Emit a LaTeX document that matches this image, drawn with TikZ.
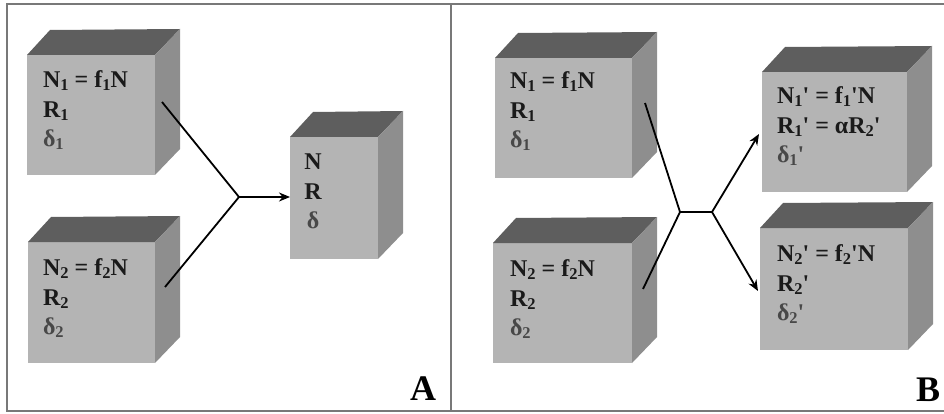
\documentclass[tikz,border=0pt]{standalone}
\usepackage{fontspec}
\setmainfont{Liberation Serif}
\usetikzlibrary{arrows.meta,calc}
\definecolor{frontc}{HTML}{B4B4B4}
\definecolor{topc}{HTML}{5E5E5E}
\definecolor{sidec}{HTML}{8E8E8E}
\definecolor{framec}{HTML}{787878}
\definecolor{txtc}{HTML}{1A1A1A}
\definecolor{deltac}{HTML}{484848}
\newcommand\sbs[1]{\raisebox{-0.28ex}{\fontsize{16.5}{16.5}\selectfont #1}}
\newcommand\pr{\textquotesingle}
\newcommand\dl[1]{\textcolor{deltac}{#1}}
\newcommand\cubebox[5]{%
  \node[frontface, minimum width={(#4-#2)*1pt}, minimum height={(#5-#3)*1pt}] (#1) at (#2,#3) {};
  \fill[topc] (#1.north west) -- (#1.north east) -- ++(25,-26) -- ($(#1.north west)+(23,-25)$) -- cycle;
  \fill[sidec] (#1.north east) -- ++(25,-26) -- ++(0,#5-#3) -- (#1.south east) -- cycle;
}
\tikzset{
  frontface/.style={fill=frontc, draw=none, anchor=north west, inner sep=0pt, outer sep=0pt},
  boxtext/.style={anchor=north west, inner sep=0pt, outer sep=0pt, align=left, text=txtc,
    font=\fontsize{24}{29.5}\selectfont\bfseries},
  boxtextc/.style={boxtext, anchor=north, align=center},
  conn/.style={line width=1.8pt, black},
  arr/.style={conn, -{Stealth[length=11pt,width=9pt]}},
  panellabel/.style={font=\fontsize{36}{36}\selectfont\bfseries, text=black, inner sep=0pt},
  framel/.style={draw=framec, line width=2.4pt}
}
\begin{document}
\begin{tikzpicture}[x=1pt,y=-1pt]
\useasboundingbox (0,0) rectangle (944,414);
% frame
\draw[framel] (7,4) rectangle (960,411);
\draw[framel] (451,4) -- (451,411);
% panel A
\cubebox{a1}{27}{55}{155}{175}
\cubebox{a2}{28}{242}{155}{363}
\cubebox{a3}{290}{137}{378}{259}
\node[boxtext] (a1t) at (43,71) {N\sbs{1} = f\sbs{1}N\\R\sbs{1}\\\dl{δ\sbs{1}}};
\node[boxtext] (a2t) at (43,259) {N\sbs{2} = f\sbs{2}N\\R\sbs{2}\\\dl{δ\sbs{2}}};
\node[boxtextc] (a3t) at (313,154) {N\\R\\\dl{δ}};
\coordinate (ja) at (239,197);
\coordinate (a1p) at (162,102);
\coordinate (a2p) at (165,287);
\draw[conn] (a1p) -- (ja);
\draw[conn] (a2p) -- (ja);
\draw[arr] (ja) -- (a3.west |- ja);
\node[panellabel] (la) at (423,389) {A};
% panel B
\cubebox{b1}{495}{58}{632}{178}
\cubebox{b2}{493}{243}{632}{363}
\cubebox{b3}{762}{72}{907}{192}
\cubebox{b4}{760}{228}{908}{350}
\node[boxtext] (b1t) at (510,72) {N\sbs{1} = f\sbs{1}N\\R\sbs{1}\\\dl{δ\sbs{1}}};
\node[boxtext] (b2t) at (510,260) {N\sbs{2} = f\sbs{2}N\\R\sbs{2}\\\dl{δ\sbs{2}}};
\node[boxtext] (b3t) at (777,87) {N\sbs{1}\pr{} = f\sbs{1}\pr N\\R\sbs{1}\pr{} = αR\sbs{2}\pr\\\dl{δ\sbs{1}\pr}};
\node[boxtext] (b4t) at (777,245) {N\sbs{2}\pr{} = f\sbs{2}\pr N\\R\sbs{2}\pr\\\dl{δ\sbs{2}\pr}};
\coordinate (jb1) at (680,212);
\coordinate (jb2) at (712,212);
\coordinate (b1p) at (645,103);
\coordinate (b2p) at (643,289);
\coordinate (b3p) at (759,134);
\coordinate (b4p) at (758,291);
\draw[conn] (b1p) -- (jb1);
\draw[conn] (b2p) -- (jb1);
\draw[conn] (jb1) -- (jb2);
\draw[arr] (jb2) -- (b3p);
\draw[arr] (jb2) -- (b4p);
\node[panellabel] (lb) at (928,390) {B};
\end{tikzpicture}
\end{document}
